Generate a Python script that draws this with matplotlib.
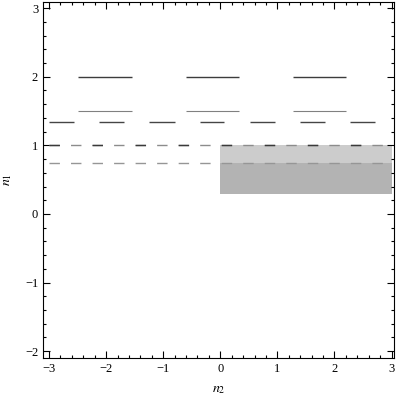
import matplotlib
matplotlib.use("Agg")
import matplotlib.pyplot as plt
from matplotlib.ticker import MultipleLocator

plt.rcParams['font.family'] = ['Liberation Serif', 'DejaVu Serif']
plt.rcParams['mathtext.fontset'] = 'stix'

# level n1 = 2 and n1 = 1.5 segments (same x extents)
seg_lo = [-2.49, -0.60, 1.27]
seg_hi = [-1.54, 0.33, 2.20]

# level n1 = 4/3 short segments
short_lo = [-3.00, -2.12, -1.24, -0.36, 0.52, 1.40, 2.28]
short_hi = [-2.56, -1.68, -0.80, 0.07, 0.96, 1.84, 2.71]

# dashed reference levels
dash_x = [-3, 3]
level_top = 1.0
level_mid = 0.75

# shaded region (n2 from 0 to 3)
shade_x = [0, 3]
shade_bottom = 0.29

fig = plt.figure(figsize=(4, 4), dpi=100)
ax = fig.add_axes([0.1075, 0.105, 0.8785, 0.89])

ax.fill_between(shade_x, level_mid, level_top, color='#cccccc', lw=0)
ax.fill_between(shade_x, shade_bottom, level_mid, color='#b3b3b3', lw=0)

ax.hlines([2] * len(seg_lo), seg_lo, seg_hi, color='#3c3c3c', lw=1.0)
ax.hlines([1.5] * len(seg_lo), seg_lo, seg_hi, color='#808080', lw=0.8)
ax.hlines([4 / 3] * len(short_lo), short_lo, short_hi, color='#454545', lw=1.0)

ax.plot(dash_x, [level_top] * 2, color='#8c8c8c', lw=1.0, dashes=(7.5, 8))
ax.plot(dash_x, [level_top] * 2, color='#3a3a3a', lw=1.0, linestyle=(0, (7.5, 23.5)))
ax.plot(dash_x, [level_mid] * 2, color='#969696', lw=1.0, dashes=(7.5, 8))

ax.set_xlim(-3.105, 3.05)
ax.set_ylim(-2.1, 3.09)
ax.xaxis.set_major_locator(MultipleLocator(1))
ax.xaxis.set_minor_locator(MultipleLocator(0.2))
ax.yaxis.set_major_locator(MultipleLocator(1))
ax.yaxis.set_minor_locator(MultipleLocator(0.2))
ax.tick_params(which='both', direction='in', top=True, right=True, labelsize=9, width=0.8)
ax.tick_params(which='major', length=5)
ax.tick_params(which='minor', length=2.5)
for s in ax.spines.values():
    s.set_linewidth(0.8)

ax.set_xlabel('$n_2$', fontsize=10, labelpad=6)
ax.set_ylabel('$n_1$', fontsize=10, labelpad=8)

fig.savefig('out.png', dpi=100)
